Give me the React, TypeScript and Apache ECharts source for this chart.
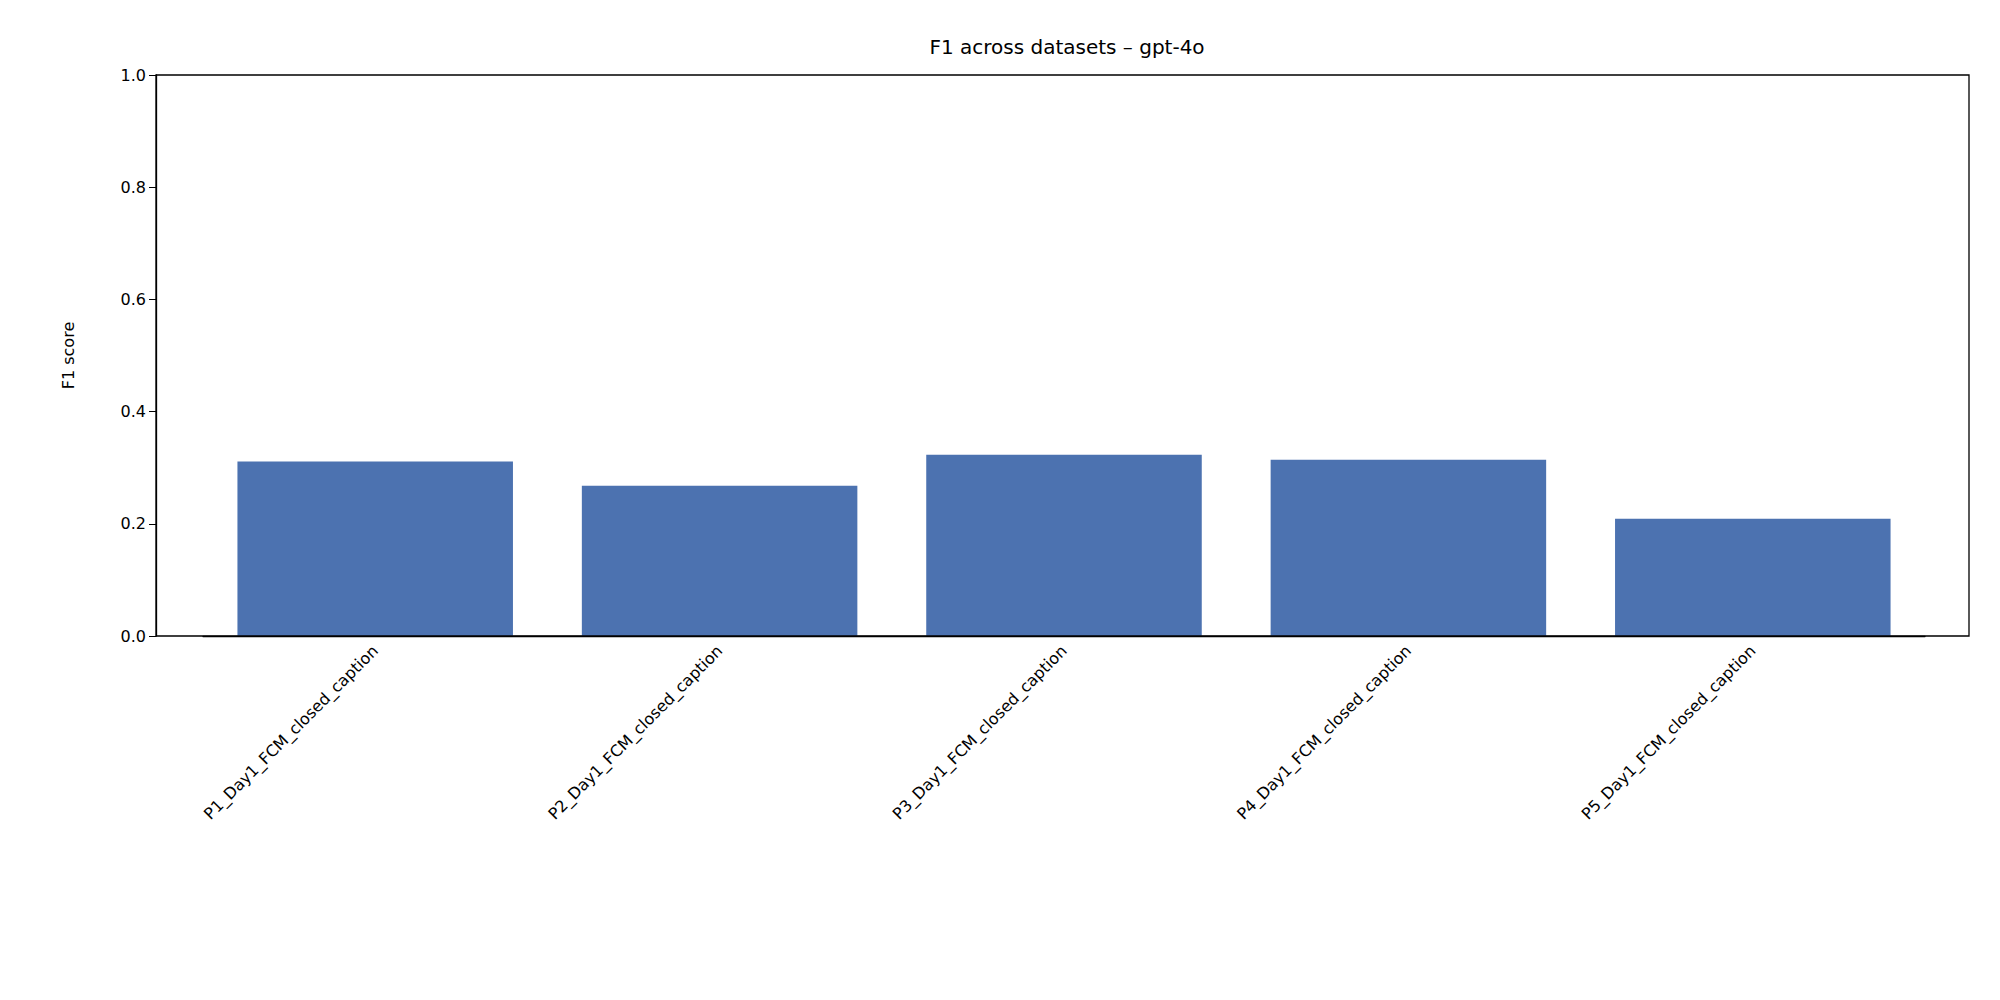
import React, { useEffect, useRef } from "react";
import * as echarts from "echarts";

const categories = [
  "P1_Day1_FCM_closed_caption",
  "P2_Day1_FCM_closed_caption",
  "P3_Day1_FCM_closed_caption",
  "P4_Day1_FCM_closed_caption",
  "P5_Day1_FCM_closed_caption",
];
const f1Values = [0.311, 0.268, 0.323, 0.314, 0.209];
const yTicks = [0, 0.2, 0.4, 0.6, 0.8, 1.0];

const FONT = "DejaVu Sans";

const App: React.FC = () => {
  const chartRef = useRef<HTMLDivElement>(null);

  useEffect(() => {
    document.body.style.margin = "0";
    if (!chartRef.current) return;
    const chart = echarts.init(chartRef.current, undefined, { renderer: "svg" });

    const option: echarts.EChartsOption = {
      animation: false,
      backgroundColor: "#ffffff",
      title: {
        text: "F1 across datasets – gpt-4o",
        left: 1062,
        top: 32,
        textAlign: "center",
        textStyle: { fontFamily: FONT, fontSize: 20, fontWeight: "normal", color: "#000" },
      },
      grid: { left: 203, right: 75, top: 75, bottom: 364 },
      graphic: [
        {
          type: "rect",
          shape: { x: 156, y: 75, width: 1813, height: 561 },
          style: { fill: "none", stroke: "#000", lineWidth: 1.3 },
          z: 10,
        },
      ],
      xAxis: {
        type: "category",
        data: categories,
        axisLine: { lineStyle: { color: "#000", width: 1.3 } },
        axisTick: { alignWithLabel: true, length: 7, lineStyle: { color: "#000" } },
        axisLabel: {
          rotate: 45,
          interval: 0,
          margin: 12,
          color: "#000",
          fontFamily: FONT,
          fontSize: 16,
        },
      },
      yAxis: {
        type: "value",
        min: 0,
        max: 1,
        interval: 0.2,
        offset: 47,
        name: "F1 score",
        nameLocation: "middle",
        nameGap: 80,
        nameTextStyle: { fontFamily: FONT, fontSize: 16, color: "#000" },
        axisLine: { show: true, lineStyle: { color: "#000", width: 1.3 } },
        axisTick: { show: true, length: 7, lineStyle: { color: "#000" } },
        splitLine: { show: false },
        axisLabel: {
          color: "#000",
          fontFamily: FONT,
          fontSize: 16,
          margin: 10,
          formatter: (v: number) =>
            yTicks.some((t) => Math.abs(t - v) < 1e-9) ? v.toFixed(1) : "",
        },
      },
      series: [
        {
          type: "bar",
          data: f1Values,
          barCategoryGap: "20%",
          itemStyle: { color: "#4c72b0" },
        },
      ],
    };

    chart.setOption(option);
    return () => chart.dispose();
  }, []);

  return <div ref={chartRef} style={{ width: 2000, height: 1000 }} />;
};

export default App;
